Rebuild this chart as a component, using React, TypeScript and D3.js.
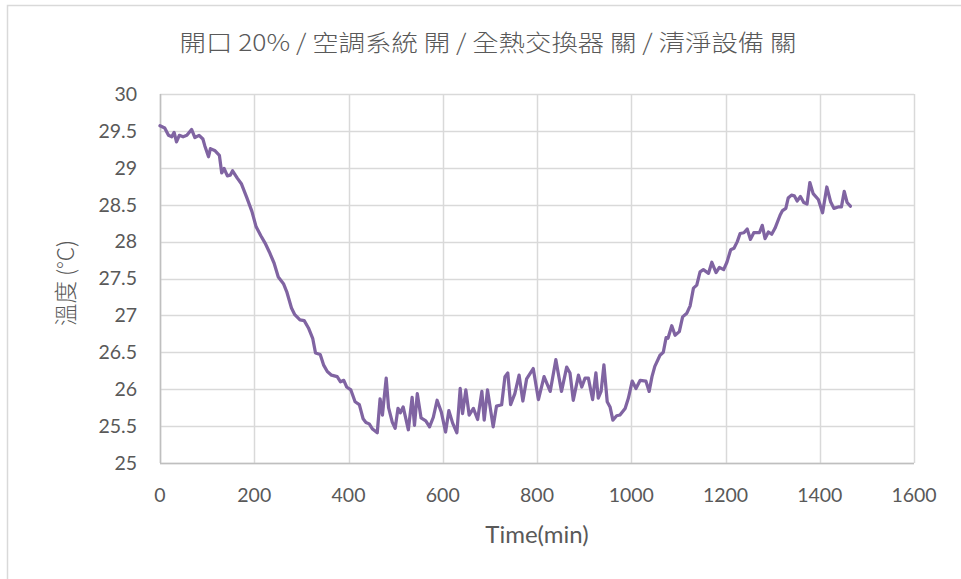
import React from "react";
import * as d3 from "d3";

const titleText = "開口 20% / 空調系統 開 / 全熱交換器 關 / 清淨設備 關";
const xAxisTitle = "Time(min)";
const yAxisTitle = "溫度 (°C)";
const xTicks = [0, 200, 400, 600, 800, 1000, 1200, 1400, 1600];
const yTicks = [25, 25.5, 26, 26.5, 27, 27.5, 28, 28.5, 29, 29.5, 30];

const times = [
  0, 10, 18, 25, 30, 35, 41, 49, 57, 67, 74, 83, 91, 95, 103, 107, 117, 126, 131, 136,
  143, 149, 154, 164, 173, 184, 195, 204, 214, 223, 232, 242, 251, 262, 269, 279, 286, 297, 306, 315,
  324, 330, 340, 347, 355, 364, 376, 383, 390, 396, 405, 414, 423, 431, 437, 444, 451, 461, 467, 472,
  480, 485, 493, 499, 505, 510, 516, 527, 535, 540, 546, 554, 564, 572, 580, 588, 597, 606, 613, 621,
  630, 637, 642, 649, 656, 665, 674, 683, 688, 695, 707, 714, 725, 732, 738, 744, 753, 762, 770, 778,
  792, 803, 815, 828, 840, 852, 863, 870, 877, 888, 895, 902, 909, 918, 925, 930, 936, 942, 949, 955,
  961, 969, 976, 987, 994, 1002, 1010, 1019, 1031, 1038, 1044, 1050, 1061, 1068, 1074, 1078, 1086, 1093, 1102, 1109,
  1118, 1125, 1132, 1139, 1146, 1153, 1164, 1171, 1180, 1187, 1196, 1203, 1211, 1218, 1225, 1231, 1239, 1246, 1253, 1260,
  1272, 1278, 1284, 1291, 1298, 1305, 1316, 1321, 1328, 1333, 1340, 1346, 1352, 1359, 1366, 1373, 1379, 1386, 1397, 1406,
  1415, 1423, 1430, 1439, 1446, 1452, 1458, 1465,
];

const temps = [
  29.57, 29.54, 29.44, 29.42, 29.48, 29.35, 29.44, 29.42, 29.44, 29.52, 29.41, 29.44, 29.39, 29.3, 29.15, 29.26, 29.23, 29.17, 28.93, 28.99,
  28.89, 28.9, 28.96, 28.86, 28.78, 28.6, 28.41, 28.2, 28.08, 27.98, 27.86, 27.71, 27.52, 27.43, 27.32, 27.1, 27.01, 26.94, 26.93, 26.83,
  26.69, 26.49, 26.47, 26.33, 26.24, 26.19, 26.17, 26.1, 26.12, 26.03, 25.99, 25.83, 25.79, 25.6, 25.55, 25.53, 25.46, 25.41, 25.87, 25.65,
  26.15, 25.75, 25.55, 25.47, 25.74, 25.68, 25.76, 25.45, 25.89, 25.51, 25.94, 25.61, 25.57, 25.49, 25.62, 25.85, 25.69, 25.42, 25.71, 25.54,
  25.41, 26.01, 25.67, 25.99, 25.65, 25.74, 25.59, 25.97, 25.58, 25.99, 25.49, 25.77, 25.79, 26.17, 26.22, 25.79, 25.94, 26.19, 25.84, 26.14,
  26.28, 25.86, 26.17, 25.97, 26.4, 25.97, 26.3, 26.22, 25.85, 26.19, 26.03, 26.15, 26.15, 25.86, 26.22, 25.88, 25.97, 26.33, 25.83, 25.76,
  25.58, 25.64, 25.65, 25.74, 25.88, 26.11, 26.01, 26.12, 26.11, 25.97, 26.17, 26.31, 26.46, 26.5, 26.7, 26.69, 26.86, 26.73, 26.78, 26.98,
  27.03, 27.13, 27.37, 27.41, 27.59, 27.62, 27.57, 27.72, 27.58, 27.65, 27.62, 27.72, 27.89, 27.91, 28.0, 28.11, 28.12, 28.17, 28.03, 28.12,
  28.12, 28.22, 28.04, 28.13, 28.1, 28.18, 28.36, 28.42, 28.45, 28.59, 28.63, 28.62, 28.55, 28.61, 28.53, 28.51, 28.8, 28.65, 28.57, 28.39,
  28.74, 28.54, 28.45, 28.47, 28.47, 28.68, 28.53, 28.48,
];

const W = 961;
const H = 579;
const plot = { left: 160, right: 914, top: 94, bottom: 463 };
const textColor = "#595959";
const gridColor = "#D9D9D9";
const lineColor = "#8064A2";
const latin = "Lato, 'Open Sans', sans-serif";
const cjk = "'Noto Sans CJK TC', 'Noto Sans CJK SC', sans-serif";

export default function App() {
  const x = d3.scaleLinear().domain([0, 1600]).range([plot.left, plot.right]);
  const y = d3.scaleLinear().domain([25, 30]).range([plot.bottom, plot.top]);
  const data = times.map((t, i) => [t, temps[i]] as [number, number]);
  const line = d3
    .line<[number, number]>()
    .x((d) => x(d[0]))
    .y((d) => y(d[1]))
    .curve(d3.curveLinear);

  return (
    <svg
      width={W}
      height={H}
      style={{ position: "absolute", left: 0, top: 0, background: "#fff" }}
    >
      <rect x={7.5} y={5.5} width={W} height={H} fill="#fff" stroke={gridColor} strokeWidth={1.5} />
      {yTicks.map((t) => (
        <line key={"gy" + t} x1={plot.left} x2={plot.right} y1={Math.round(y(t)) + 0.5} y2={Math.round(y(t)) + 0.5} stroke={gridColor} strokeWidth={1.5} />
      ))}
      {xTicks.map((t) => (
        <line key={"gx" + t} x1={Math.round(x(t)) + 0.5} x2={Math.round(x(t)) + 0.5} y1={plot.top} y2={plot.bottom} stroke={gridColor} strokeWidth={1.5} />
      ))}
      <line x1={plot.left} x2={plot.right} y1={plot.bottom + 0.5} y2={plot.bottom + 0.5} stroke="#BFBFBF" strokeWidth={1.5} />
      <line x1={plot.left + 0.5} x2={plot.left + 0.5} y1={plot.top} y2={plot.bottom} stroke="#BFBFBF" strokeWidth={1.5} />
      <path d={line(data) || ""} fill="none" stroke={lineColor} strokeWidth={3.25} strokeLinejoin="round" strokeLinecap="round" />
      {yTicks.map((t) => (
        <text key={"ty" + t} x={137} y={y(t)} dy="0.35em" textAnchor="end" fontFamily={latin} fontSize={19.5} fill={textColor}>
          {String(t)}
        </text>
      ))}
      {xTicks.map((t) => (
        <text key={"tx" + t} x={x(t)} y={495} dy="0.35em" textAnchor="middle" fontFamily={latin} fontSize={19.5} fill={textColor}>
          {String(t)}
        </text>
      ))}
      <text x={537} y={535} dy="0.35em" textAnchor="middle" fontFamily={latin} fontSize={24} fill={textColor}>
        {xAxisTitle}
      </text>
      <text
        transform={`translate(66, 283) rotate(-90)`}
        dy="0.35em"
        textAnchor="middle"
        fontFamily={cjk}
        fontSize={22.5}
        fontWeight={300}
        fill={textColor}
      >
        {yAxisTitle}
      </text>
      <text
        x={488}
        y={43}
        dy="0.35em"
        textAnchor="middle"
        fontFamily={cjk}
        fontSize={23}
        fontWeight={300}
        fill={textColor}
        textLength={617}
        lengthAdjust="spacingAndGlyphs"
      >
        {titleText}
      </text>
    </svg>
  );
}
